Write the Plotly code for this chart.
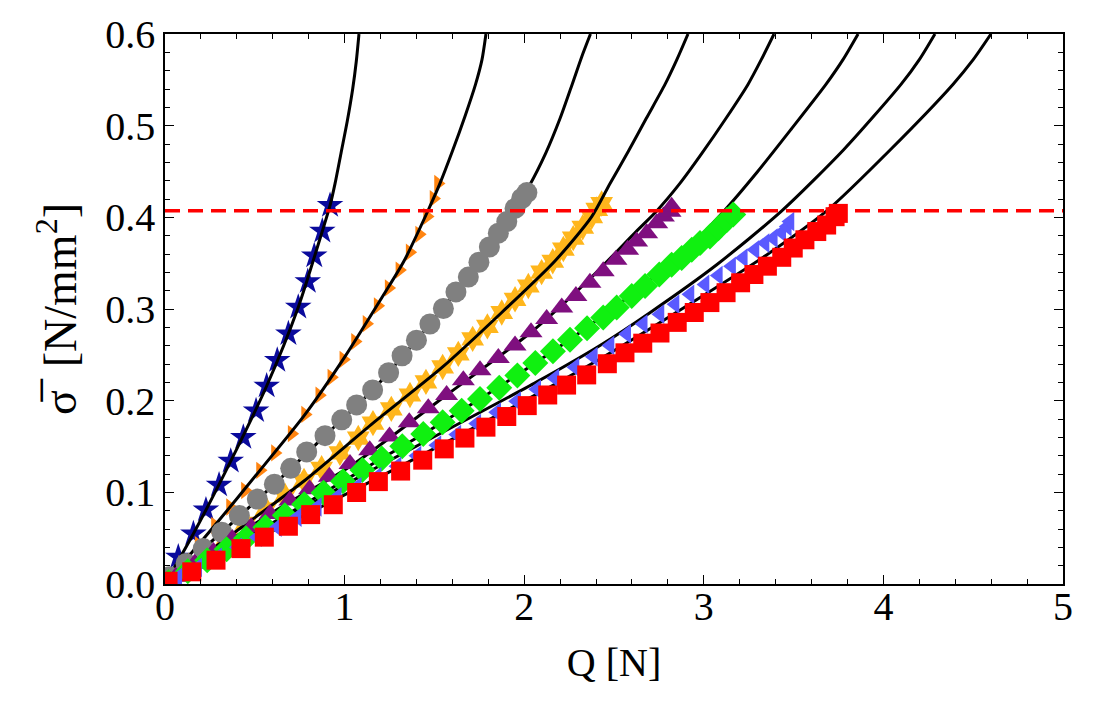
import plotly.graph_objects as go

# ---------------- data ----------------
blue_Q = [0.0, 0.074, 0.158, 0.228, 0.301, 0.366, 0.436, 0.507, 0.566, 0.625, 0.687, 0.742, 0.795, 0.831, 0.876, 0.919]
blue_S = [0.0, 0.0295, 0.0548, 0.0808, 0.108, 0.134, 0.160, 0.189, 0.216, 0.244, 0.273, 0.302, 0.330, 0.358, 0.385, 0.413]

orange_Q = [0.0, 0.096, 0.187, 0.278, 0.362, 0.445, 0.529, 0.612, 0.705, 0.780, 0.859, 0.926, 0.993, 1.058, 1.122, 1.184, 1.245, 1.305, 1.362, 1.415, 1.459, 1.495, 1.520]
orange_S = [0.0, 0.022, 0.043, 0.064, 0.084, 0.102, 0.124, 0.143, 0.164, 0.185, 0.206, 0.2255, 0.245, 0.2645, 0.284, 0.3035, 0.323, 0.3425, 0.362, 0.3815, 0.401, 0.4205, 0.437]

gray_Q = [0.024, 0.117, 0.213, 0.316, 0.414, 0.514, 0.609, 0.700, 0.789, 0.891, 0.984, 1.067, 1.156, 1.245, 1.320, 1.400, 1.475, 1.550, 1.620, 1.689, 1.748, 1.806, 1.856, 1.903, 1.949, 1.986, 2.015]
gray_S = [0.0079, 0.0224, 0.0386, 0.0565, 0.0746, 0.0926, 0.1089, 0.1262, 0.1441, 0.1618, 0.1791, 0.1954, 0.2116, 0.2305, 0.249, 0.266, 0.2836, 0.3005, 0.3186, 0.3348, 0.351, 0.3676, 0.3827, 0.3954, 0.4097, 0.4205, 0.427]

yellow_Q = [0.026, 0.132, 0.238, 0.344, 0.451, 0.562, 0.668, 0.774, 0.872, 0.974, 1.076, 1.158, 1.26, 1.364, 1.453, 1.546, 1.633, 1.713, 1.795, 1.875, 1.949, 2.023, 2.097, 2.159, 2.218, 2.273, 2.326, 2.376, 2.404, 2.431]
yellow_S = [0.004, 0.020, 0.035, 0.050, 0.0663, 0.0818, 0.0962, 0.1124, 0.1262, 0.1430, 0.1592, 0.1755, 0.191, 0.2062, 0.2205, 0.2368, 0.2511, 0.2674, 0.2811, 0.2962, 0.3106, 0.3251, 0.3402, 0.3521, 0.3654, 0.3773, 0.3892, 0.4008, 0.4086, 0.4151]

purple_Q = [0.06, 0.165, 0.27, 0.375, 0.48, 0.585, 0.695, 0.805, 0.915, 1.03, 1.14, 1.25, 1.36, 1.466, 1.568, 1.661, 1.754, 1.856, 1.949, 2.038, 2.125, 2.209, 2.288, 2.366, 2.440, 2.511, 2.576, 2.626, 2.682, 2.738, 2.775, 2.812, 2.821]
purple_S = [0.008, 0.022, 0.035, 0.049, 0.062, 0.0764, 0.091, 0.1035, 0.117, 0.131, 0.146, 0.161, 0.1765, 0.1917, 0.2062, 0.2224, 0.2332, 0.2465, 0.2602, 0.2746, 0.2890, 0.3016, 0.3143, 0.3286, 0.3413, 0.3538, 0.3646, 0.3737, 0.3827, 0.3935, 0.4008, 0.4062, 0.4116]

green_Q = [0.02, 0.127, 0.235, 0.343, 0.451, 0.559, 0.667, 0.775, 0.883, 0.991, 1.099, 1.207, 1.321, 1.438, 1.546, 1.652, 1.754, 1.861, 1.962, 2.062, 2.16, 2.255, 2.35, 2.440, 2.515, 2.599, 2.673, 2.752, 2.821, 2.877, 2.933, 2.979, 3.034, 3.081, 3.128, 3.164]
green_S = [0.002, 0.014, 0.026, 0.038, 0.050, 0.062, 0.075, 0.087, 0.0995, 0.112, 0.1245, 0.137, 0.1503, 0.1636, 0.1765, 0.1889, 0.2018, 0.2141, 0.2275, 0.241, 0.254, 0.2665, 0.279, 0.2908, 0.3016, 0.3143, 0.3251, 0.3376, 0.3484, 0.3557, 0.3646, 0.3719, 0.3791, 0.3881, 0.3971, 0.4032]

lblue_Q = [0.071, 0.182, 0.293, 0.404, 0.515, 0.626, 0.737, 0.848, 0.959, 1.070, 1.181, 1.292, 1.403, 1.514, 1.625, 1.736, 1.847, 1.958, 2.070, 2.171, 2.283, 2.385, 2.478, 2.571, 2.663, 2.756, 2.840, 2.923, 3.007, 3.081, 3.155, 3.220, 3.285, 3.341, 3.387, 3.434, 3.465, 3.480]
lblue_S = [0.007, 0.018, 0.029, 0.040, 0.051, 0.062, 0.073, 0.084, 0.095, 0.106, 0.117, 0.1285, 0.140, 0.1515, 0.163, 0.175, 0.1875, 0.1995, 0.2125, 0.2245, 0.2365, 0.248, 0.2602, 0.2728, 0.2836, 0.2944, 0.3052, 0.3160, 0.3268, 0.3366, 0.3467, 0.3557, 0.3646, 0.3719, 0.3773, 0.3835, 0.3899, 0.3954]

red_Q = [0.017, 0.149, 0.284, 0.423, 0.553, 0.687, 0.811, 0.937, 1.067, 1.188, 1.312, 1.435, 1.555, 1.670, 1.787, 1.903, 2.017, 2.131, 2.236, 2.348, 2.463, 2.561, 2.660, 2.756, 2.852, 2.947, 3.034, 3.124, 3.205, 3.279, 3.354, 3.434, 3.498, 3.563, 3.629, 3.684, 3.731, 3.749]
red_S = [0.003, 0.0133, 0.026, 0.0386, 0.0511, 0.063, 0.0757, 0.0865, 0.0998, 0.1117, 0.1232, 0.1351, 0.1474, 0.1592, 0.1711, 0.1827, 0.1946, 0.2062, 0.217, 0.2281, 0.2403, 0.2522, 0.2627, 0.2738, 0.2854, 0.2962, 0.3070, 0.3178, 0.3286, 0.3376, 0.3467, 0.3564, 0.3665, 0.3755, 0.3845, 0.3916, 0.4007, 0.4043]

# model curves (black lines)
curve_blue_Q = [0.0, 0.158, 0.366, 0.566, 0.742, 0.876, 0.919, 0.947, 0.980, 1.015, 1.045, 1.065, 1.080]
curve_blue_S = [0.0, 0.0548, 0.134, 0.216, 0.302, 0.385, 0.413, 0.437, 0.470, 0.505, 0.540, 0.570, 0.6]
curve_orange_Q = [0.0, 0.278, 0.529, 0.780, 1.002, 1.200, 1.330, 1.466, 1.531, 1.600, 1.670, 1.729, 1.765, 1.787]
curve_orange_S = [0.0, 0.064, 0.124, 0.185, 0.248, 0.310, 0.352, 0.408, 0.437, 0.472, 0.510, 0.545, 0.572, 0.6]
curve_gray_Q = [0.0, 0.316, 0.609, 0.891, 1.156, 1.400, 1.620, 1.806, 1.949, 2.030, 2.120, 2.200, 2.267, 2.320, 2.369]
curve_gray_S = [0.0, 0.0565, 0.1089, 0.1618, 0.2116, 0.266, 0.3186, 0.3676, 0.4097, 0.435, 0.470, 0.508, 0.545, 0.575, 0.6]
curve_yellow_Q = [0.0, 0.344, 0.774, 1.158, 1.546, 1.875, 2.170, 2.376, 2.478, 2.580, 2.680, 2.784, 2.850, 2.912]
curve_yellow_S = [0.0, 0.050, 0.1124, 0.1755, 0.2368, 0.2962, 0.3521, 0.4008, 0.437, 0.472, 0.508, 0.545, 0.572, 0.6]
curve_purple_Q = [0.0, 0.585, 1.048, 1.568, 2.038, 2.366, 2.626, 2.738, 2.867, 2.990, 3.120, 3.246, 3.320, 3.391]
curve_purple_S = [0.0, 0.0764, 0.1305, 0.2062, 0.2746, 0.333, 0.385, 0.407, 0.437, 0.470, 0.507, 0.545, 0.572, 0.6]
curve_green_Q = [0.0, 0.559, 1.099, 1.546, 2.062, 2.515, 2.877, 3.113, 3.300, 3.490, 3.680, 3.775, 3.859]
curve_green_S = [0.0, 0.062, 0.1245, 0.1765, 0.241, 0.3035, 0.360, 0.407, 0.450, 0.497, 0.545, 0.572, 0.6]
curve_lblue_Q = [0.0, 1.141, 2.07, 2.422, 2.70, 3.070, 3.434, 3.780, 4.098, 4.200, 4.287]
curve_lblue_S = [0.0, 0.1232, 0.2205, 0.2602, 0.296, 0.348, 0.407, 0.474, 0.545, 0.572, 0.6]
curve_red_Q = [0.0, 0.807, 1.6, 2.4, 3.0, 3.350, 3.684, 4.040, 4.387, 4.500, 4.599]
curve_red_S = [0.0, 0.078, 0.158, 0.243, 0.315, 0.359, 0.407, 0.474, 0.545, 0.572, 0.6]

limit_stress = 0.4072

x_ticks = [0, 1, 2, 3, 4, 5]
y_ticks = [0.0, 0.1, 0.2, 0.3, 0.4, 0.5, 0.6]

FONT = "Liberation Serif"

fig = go.Figure()

def markers(q, s, symbol, color, size):
    fig.add_trace(go.Scatter(x=q, y=s, mode="markers", showlegend=False,
                             marker=dict(symbol=symbol, color=color, size=size, line=dict(width=0))))

def curve(q, s):
    fig.add_trace(go.Scatter(x=q, y=s, mode="lines", showlegend=False,
                             line=dict(color="black", width=3, shape="spline", smoothing=0.7)))

# markers under lines
markers(blue_Q, blue_S, "star", "#0A0A9C", 20)
markers(orange_Q, orange_S, "triangle-right", "#FF8410", 15)
markers(yellow_Q, yellow_S, "hexagram", "#FFB61C", 20)

for q, s in [(curve_blue_Q, curve_blue_S), (curve_orange_Q, curve_orange_S),
             (curve_gray_Q, curve_gray_S), (curve_yellow_Q, curve_yellow_S),
             (curve_purple_Q, curve_purple_S), (curve_green_Q, curve_green_S),
             (curve_lblue_Q, curve_lblue_S), (curve_red_Q, curve_red_S)]:
    curve(q, s)

# markers over lines
markers(gray_Q, gray_S, "circle", "#808080", 21)
markers(purple_Q, purple_S, "triangle-up", "#7F0F7F", 20)
markers(green_Q, green_S, "diamond", "#10F010", 20)
markers(lblue_Q, lblue_S, "triangle-left", "#5A5AFF", 17)
markers(red_Q, red_S, "square", "#FF0000", 19)

# dashed limit line
fig.add_trace(go.Scatter(x=[0, 5], y=[limit_stress, limit_stress], mode="lines", showlegend=False,
                         line=dict(color="#FF0000", width=3.5, dash="15px,8px"), cliponaxis=False))

axis_common = dict(showgrid=False, zeroline=False, showline=True, linecolor="black", linewidth=1.5,
                   mirror="allticks", ticks="inside", ticklen=9, tickwidth=1.2, tickcolor="black",
                   tickfont=dict(family=FONT, size=40, color="black"))

fig.update_xaxes(range=[0, 5], tickvals=x_ticks, ticktext=[str(v) for v in x_ticks],
                 ticklabelstandoff=-14,
                 minor=dict(dtick=0.2, ticks="inside", ticklen=5, tickcolor="black", tickwidth=1),
                 title=dict(text="Q [N]", font=dict(family=FONT, size=40, color="black"), standoff=20),
                 **axis_common)
fig.update_yaxes(range=[0, 0.6], tickvals=y_ticks, ticktext=[f"{v:.1f}" for v in y_ticks],
                 minor=dict(dtick=0.02, ticks="inside", ticklen=5, tickcolor="black", tickwidth=1),
                 title=dict(text="σ\u0305\u2002[N/mm<sup>2</sup>]", font=dict(family=FONT, size=46, color="black"), standoff=14),
                 **axis_common)

fig.update_layout(width=1119, height=703, margin=dict(l=165, r=56, t=29, b=119),
                  plot_bgcolor="white", paper_bgcolor="white")

fig.write_html("out.html")
